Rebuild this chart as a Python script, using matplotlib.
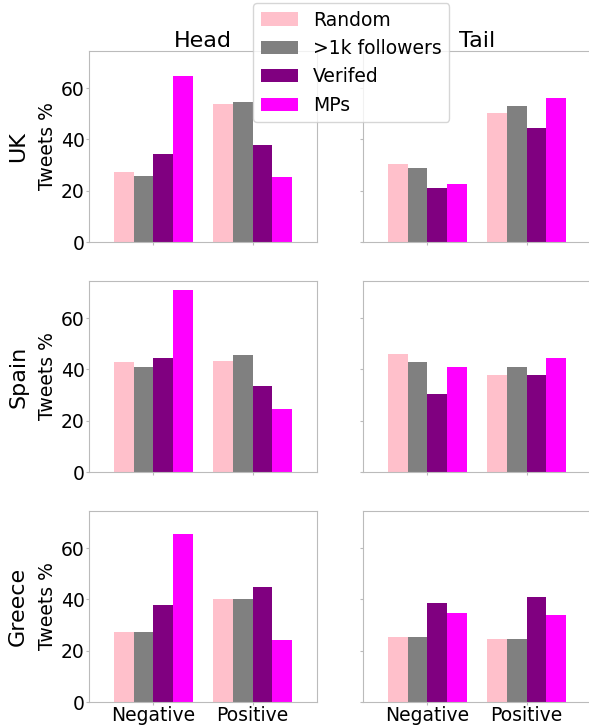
import matplotlib
matplotlib.use('Agg')
import matplotlib.pyplot as plt
import numpy as np

# Values (percent of tweets)
countries = ['UK', 'Spain', 'Greece']
columns = ['Head', 'Tail']
sentiments = ['Negative', 'Positive']
groups = ['Random', '>1k followers', 'Verifed', 'MPs']
colors = ['pink', 'gray', 'purple', 'magenta']

# each entry: [Negative, Positive] for Random, >1k, Verified, MPs
uk_head = [[27.3, 53.7], [25.9, 54.8], [34.4, 37.8], [64.6, 25.2]]
uk_tail = [[30.4, 50.3], [28.9, 52.9], [21.1, 44.6], [22.5, 56.1]]
spain_head = [[42.8, 43.2], [40.8, 45.5], [44.5, 33.4], [70.8, 24.6]]
spain_tail = [[46.1, 37.8], [43.1, 40.9], [30.5, 37.8], [41.1, 44.5]]
greece_head = [[27.2, 40.0], [27.2, 40.0], [37.9, 44.7], [65.4, 24.2]]
greece_tail = [[25.5, 24.4], [25.5, 24.4], [38.7, 40.8], [34.8, 33.9]]

data = {
    ('UK', 'Head'): uk_head, ('UK', 'Tail'): uk_tail,
    ('Spain', 'Head'): spain_head, ('Spain', 'Tail'): spain_tail,
    ('Greece', 'Head'): greece_head, ('Greece', 'Tail'): greece_tail,
}

plt.rcParams['font.family'] = 'DejaVu Sans'
fig = plt.figure(figsize=(5.89, 7.27), dpi=100)

W, H = 589, 727
lefts = [89, 363]
tops = [51, 281, 511]
aw, ah = 228, 191
spine_col = '#bbbbbb'
x = np.arange(len(sentiments))
bw = 0.2

axes = {}
for r, country in enumerate(countries):
    for c, col in enumerate(columns):
        ax = fig.add_axes([lefts[c] / W, 1 - (tops[r] + ah) / H, aw / W, ah / H])
        vals = data[(country, col)]
        for i, g in enumerate(groups):
            ax.bar(x + (i - 1.5) * bw, vals[i], bw, color=colors[i], label=g)
        ax.set_xlim(-0.65, 1.65)
        ax.set_ylim(0, 74.5)
        ax.set_yticks([0, 20, 40, 60])
        ax.set_xticks(x)
        for s in ax.spines.values():
            s.set_color(spine_col)
        ax.tick_params(colors=spine_col, labelcolor='black', labelsize=13.5,
                       length=2.2, pad=1)
        if r == len(countries) - 1:
            ax.set_xticklabels(sentiments)
        else:
            ax.set_xticklabels([])
        if c == 0:
            ax.set_ylabel('Tweets %', fontsize=13.5, labelpad=3)
            fig.text(18 / W, 1 - (tops[r] + ah / 2) / H, country, rotation=90,
                     fontsize=16, ha='center', va='center')
        else:
            ax.set_yticklabels([])
        if r == 0:
            ax.set_title(col, fontsize=16, pad=1.7)
        axes[(r, c)] = ax

handles, labels = axes[(0, 0)].get_legend_handles_labels()
fig.legend(handles, labels, loc='upper left', bbox_to_anchor=(253 / W, 1 - 3 / H),
           fontsize=13.5, borderaxespad=0)

fig.savefig('out.png', dpi=100)
